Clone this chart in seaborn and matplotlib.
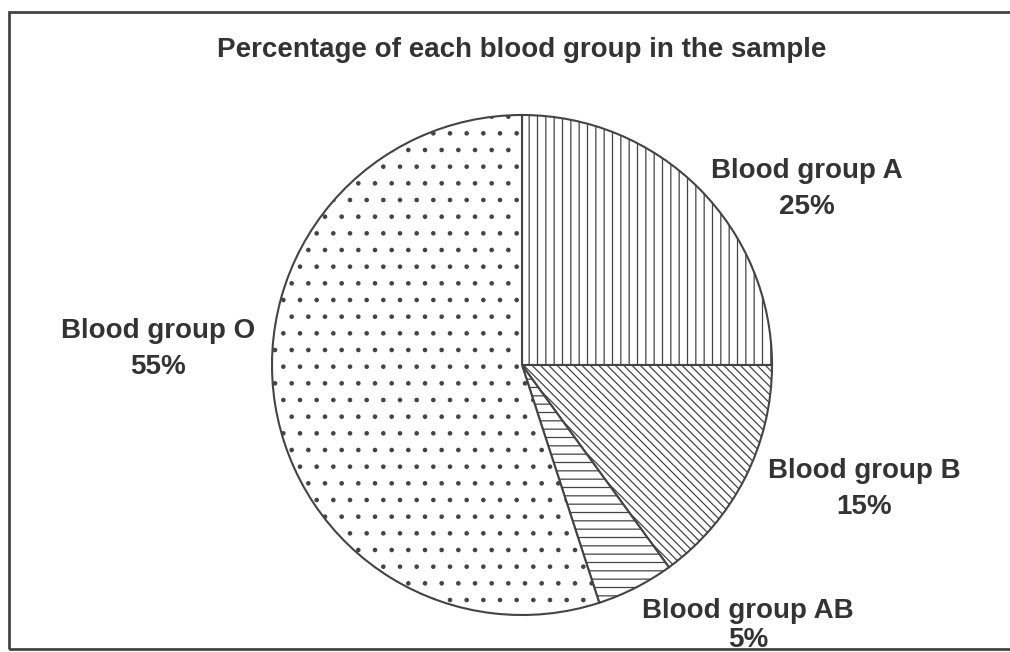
import matplotlib
matplotlib.use("Agg")
import matplotlib.pyplot as plt
import seaborn as sns
from matplotlib.patches import Rectangle

groups = ["Blood group A", "Blood group B", "Blood group AB", "Blood group O"]
percents = [25, 15, 5, 55]
hatches = ["||", "\\\\\\\\", "--", "."]

sns.set_theme(style="white")
plt.rcParams["font.family"] = ["Liberation Sans", "DejaVu Sans"]
plt.rcParams["hatch.linewidth"] = 0.9
plt.rcParams["hatch.color"] = "#444444"

fig = plt.figure(figsize=(10.1, 6.52), dpi=100)
ax = fig.add_axes([272 / 1010, (652 - 615) / 652, 500 / 1010, 500 / 652])

wedges, _ = ax.pie(percents, startangle=90, counterclock=False,
                   colors=["white"] * len(percents),
                   wedgeprops=dict(edgecolor="#444444", linewidth=1.5))
for w, h in zip(wedges, hatches):
    w.set_hatch(h)
ax.set_xlim(-1, 1)
ax.set_ylim(-1, 1)
ax.set_aspect("equal")
ax.axis("off")

# label anchors in figure pixels: x centre, baselines of both lines (from top)
label_pos = [(807, 178, 214), (864, 478, 514), (748, 618, 647), (158, 338, 374)]
for g, p, (x, y1, y2) in zip(groups, percents, label_pos):
    fig.text(x / 1010, 1 - y1 / 652, g, ha="center", va="baseline",
             fontsize=20, fontweight="bold", color="#333333")
    fig.text(x / 1010, 1 - y2 / 652, f"{p}%", ha="center", va="baseline",
             fontsize=20, fontweight="bold", color="#333333")

fig.text(522 / 1010, 1 - 57 / 652, "Percentage of each blood group in the sample",
         ha="center", va="baseline", fontsize=20, fontweight="bold", color="#333333")

fig.patches.append(Rectangle((9 / 1010, 3 / 652), 1.0, 637 / 652,
                             transform=fig.transFigure, fill=False,
                             edgecolor="#444444", linewidth=2))

fig.savefig("out.png", dpi=100)
